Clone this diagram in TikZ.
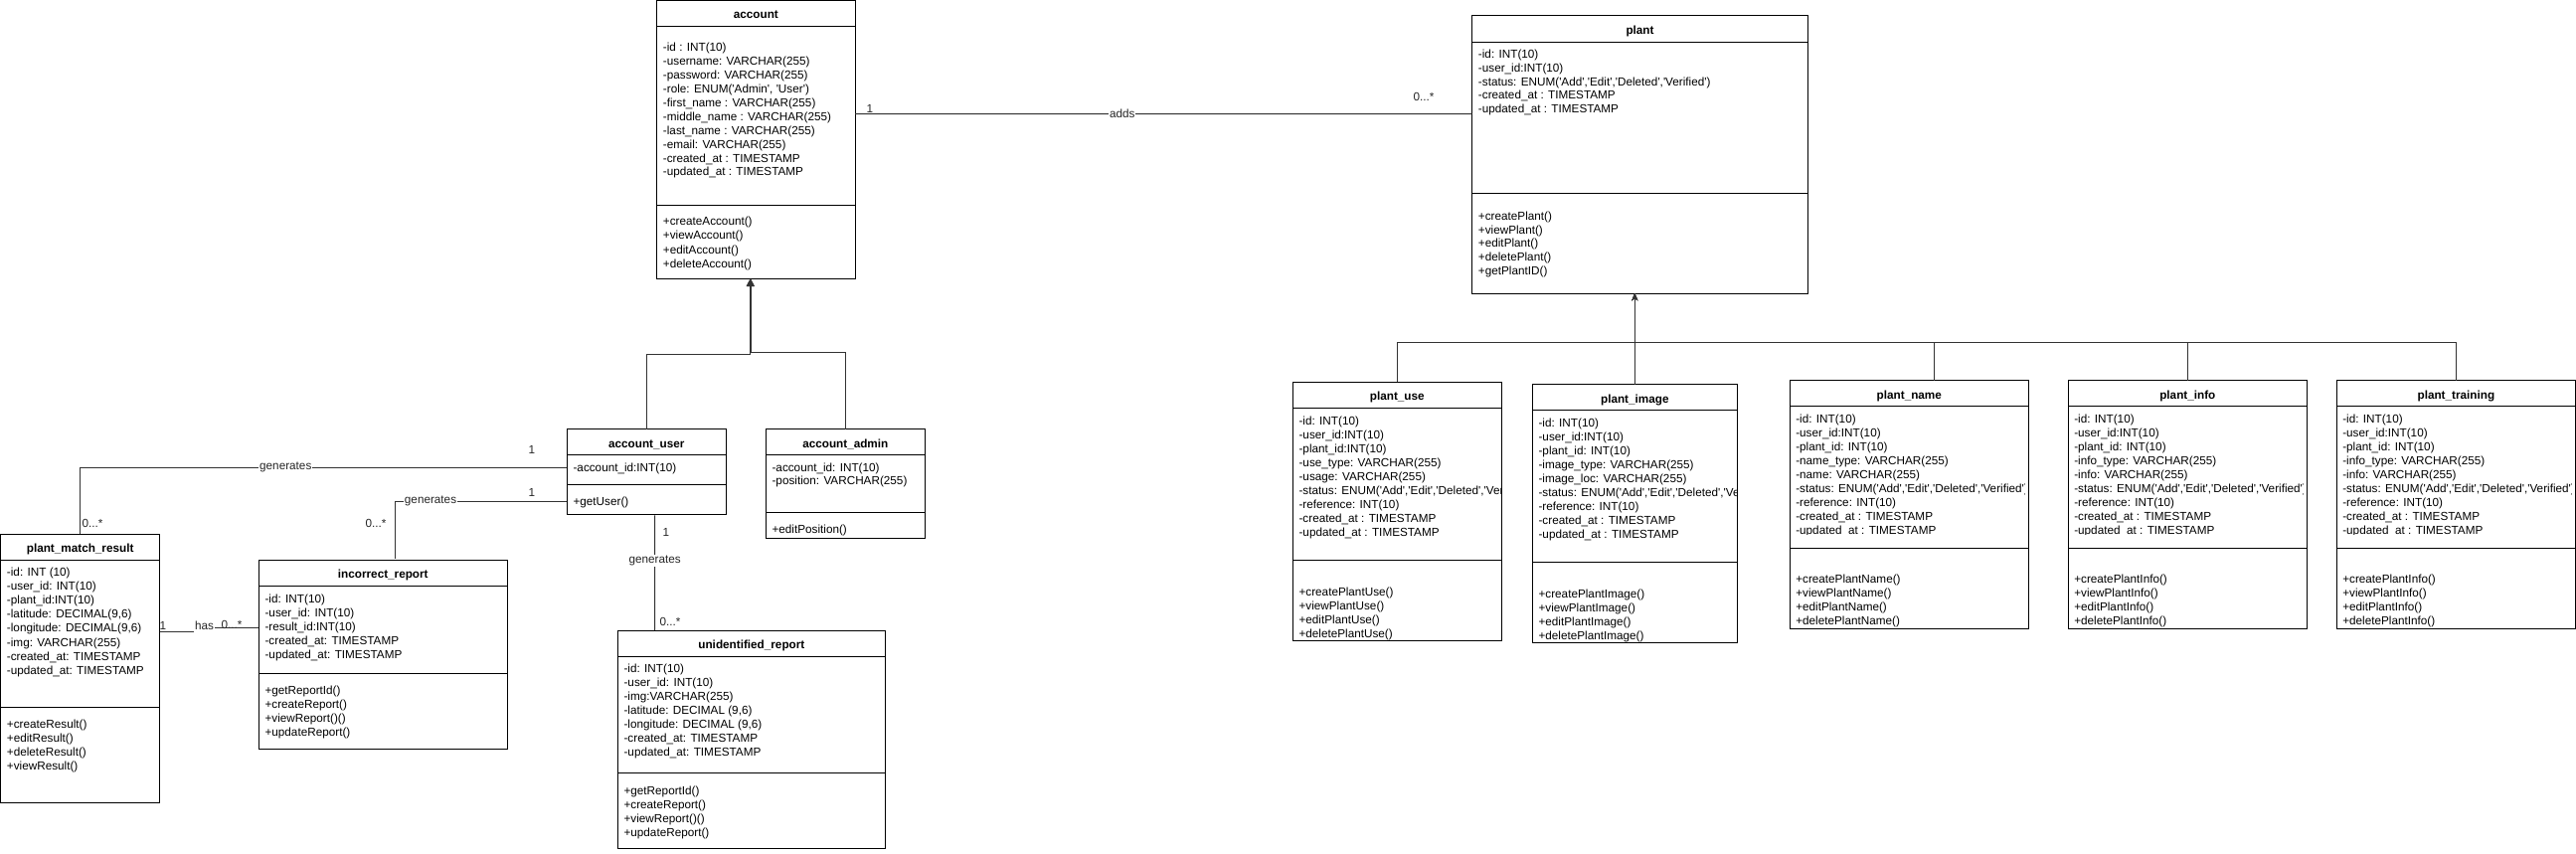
\documentclass[tikz,border=0pt]{standalone}
\usepackage{fontspec}
\newfontfamily\dfont{Liberation Sans}
\usetikzlibrary{fit,calc,arrows.meta}
\tikzset{
  box/.style={draw=black, line width=0.75pt, inner sep=0pt, outer sep=0pt},
  sepl/.style={draw=black, line width=0.75pt},
  txt/.style={anchor=base west, inner sep=0pt, font=\dfont\fontsize{8.8}{10}\selectfont},
  ttl/.style={anchor=base, inner sep=0pt, font=\dfont\bfseries\fontsize{8.8}{10}\selectfont},
  conn/.style={draw=black!80, line width=0.75pt},
  lbl/.style={inner sep=0.75pt, text=black!85, font=\dfont\fontsize{8.8}{10}\selectfont},
  onl/.style={lbl, fill=white},
  gen/.style={-{Triangle[width=5.5pt,length=5.5pt]}},
  gen2/.style={-{Stealth[width=4.5pt,length=5.5pt,inset=1.5pt]}},
}
% name, x1, y1, x2, y2, title separator, method separator, title
\newcommand\umlbox[8]{%
  \node[box, fit={(#2,#3) (#4,#5)}] (#1) {};
  \draw[sepl] (#2,#6) -- (#4,#6);
  \draw[sepl] (#2,#7) -- (#4,#7);
  \node[ttl] (#1-title) at ({(#2+#4)/2},{(#3+#6)/2+5.5}) {#8};
}
% name, x, first baseline, step, list
\newcommand\rows[5]{%
  \foreach \t [count=\i from 0] in {#5} {\node[txt] (#1-\i) at (#2,{#3+\i*#4}) {\t};}%
}
\begin{document}
\begin{tikzpicture}[x=0.75pt,y=-0.75pt]
\useasboundingbox (0,0) rectangle (2591,858);

% ---------------- account
\umlbox{account}{660.7}{0.7}{860}{280.7}{26}{206.7}{account}
\rows{account-a}{666.7}{51.8}{13.9}{-id : INT(10), -username: VARCHAR(255), -password: VARCHAR(255), {-role: ENUM('Admin', 'User')}, -first\_name : VARCHAR(255), -middle\_name : VARCHAR(255), -last\_name : VARCHAR(255), -email: VARCHAR(255), -created\_at : TIMESTAMP, -updated\_at : TIMESTAMP}
\rows{account-m}{666.7}{226.8}{14.1}{+createAccount(), +viewAccount(), +editAccount(), +deleteAccount()}

% ---------------- plant
\umlbox{plant}{1480.7}{15.3}{1818.3}{295}{42.5}{194.3}{plant}
\rows{plant-a}{1486.7}{58.5}{13.8}{-id: INT(10), -user\_id:INT(10), {-status: ENUM('Add','Edit','Deleted','Verified')}, -created\_at : TIMESTAMP, -updated\_at : TIMESTAMP}
\rows{plant-m}{1486.7}{221.3}{13.8}{+createPlant(), +viewPlant(), +editPlant(), +deletePlant(), +getPlantID()}

% ---------------- account_user / account_admin
\umlbox{au}{570.3}{431.7}{730.3}{517.3}{457.7}{487.3}{account\_user}
\rows{au-a}{576.3}{474.5}{14}{-account\_id:INT(10)}
\rows{au-m}{576.3}{508.5}{14}{+getUser()}
\umlbox{aa}{770.3}{431.7}{930.3}{541.7}{457.7}{515.7}{account\_admin}
\rows{aa-a}{776.3}{474.5}{13.4}{-account\_id: INT(10), -position: VARCHAR(255)}
\rows{aa-m}{776.3}{536.8}{14}{+editPosition()}

% ---------------- plant_match_result
\umlbox{pmr}{0.6}{537.3}{160.7}{807.3}{563.3}{711.3}{plant\_match\_result}
\rows{pmr-a}{6.7}{579.5}{14.1}{-id: INT (10), -user\_id: INT(10), -plant\_id:INT(10), {-latitude: DECIMAL(9,6)}, {-longitude: DECIMAL(9,6)}, -img: VARCHAR(255), -created\_at: TIMESTAMP, -updated\_at: TIMESTAMP}
\rows{pmr-m}{6.7}{732.5}{13.9}{+createResult(), +editResult(), +deleteResult(), +viewResult()}

% ---------------- incorrect_report
\umlbox{ir}{260.3}{563.3}{510.3}{753.3}{589.3}{677.3}{incorrect\_report}
\rows{ir-a}{266.3}{606.2}{14.1}{-id: INT(10), -user\_id: INT(10), -result\_id:INT(10), -created\_at: TIMESTAMP, -updated\_at: TIMESTAMP}
\rows{ir-m}{266.3}{698.5}{13.9}{+getReportId(), +createReport(), +viewReport()(), +updateReport()}

% ---------------- unidentified_report
\umlbox{ur}{621.7}{634}{890}{853.3}{660}{777.7}{unidentified\_report}
\rows{ur-a}{627.3}{676.8}{13.9}{-id: INT(10), -user\_id: INT(10), -img:VARCHAR(255), {-latitude: DECIMAL (9,6)}, {-longitude: DECIMAL (9,6)}, -created\_at: TIMESTAMP, -updated\_at: TIMESTAMP}
\rows{ur-m}{627.3}{799.5}{14.1}{+getReportId(), +createReport(), +viewReport()(), +updateReport()}

% ---------------- plant_use
\umlbox{pu}{1300.3}{384.3}{1510.3}{644}{410.3}{563.3}{plant\_use}
\begin{scope}
\clip (1301,411) rectangle (1509.5,562);
\rows{pu-a}{1306.3}{427.5}{13.96}{-id: INT(10), -user\_id:INT(10), -plant\_id:INT(10), -use\_type: VARCHAR(255), -usage: VARCHAR(255), {-status: ENUM('Add','Edit','Deleted','Verified')}, -reference: INT(10), -created\_at : TIMESTAMP, -updated\_at : TIMESTAMP}
\end{scope}
\rows{pu-m}{1306.3}{599.2}{14}{+createPlantUse(), +viewPlantUse(), +editPlantUse(), +deletePlantUse()}

% ---------------- plant_image
\umlbox{pi}{1541.3}{386.7}{1747.3}{646.3}{412.3}{565.7}{plant\_image}
\begin{scope}
\clip (1542,413) rectangle (1746.5,564);
\rows{pi-a}{1547.3}{429.5}{14}{-id: INT(10), -user\_id:INT(10), -plant\_id: INT(10), -image\_type: VARCHAR(255), -image\_loc: VARCHAR(255), {-status: ENUM('Add','Edit','Deleted','Verified')}, -reference: INT(10), -created\_at : TIMESTAMP, -updated\_at : TIMESTAMP}
\end{scope}
\rows{pi-m}{1547.3}{601.2}{14}{+createPlantImage(), +viewPlantImage(), +editPlantImage(), +deletePlantImage()}

% ---------------- plant_name
\umlbox{pn}{1800.3}{382.7}{2040.3}{632.3}{408.3}{551.3}{plant\_name}
\begin{scope}
\clip (1801,409) rectangle (2036.7,537.3);
\rows{pn-a}{1806}{425.8}{14}{-id: INT(10), -user\_id:INT(10), -plant\_id: INT(10), -name\_type: VARCHAR(255), -name: VARCHAR(255), {-status: ENUM('Add','Edit','Deleted','Verified')}, -reference: INT(10), -created\_at : TIMESTAMP, -updated\_at : TIMESTAMP}
\end{scope}
\rows{pn-m}{1806}{586.8}{13.9}{+createPlantName(), +viewPlantName(), +editPlantName(), +deletePlantName()}

% ---------------- plant_info
\umlbox{pinfo}{2080.3}{382.7}{2320.3}{632.3}{408.3}{551.3}{plant\_info}
\begin{scope}
\clip (2081,409) rectangle (2316.7,537.3);
\rows{pinfo-a}{2086}{425.8}{14}{-id: INT(10), -user\_id:INT(10), -plant\_id: INT(10), -info\_type: VARCHAR(255), -info: VARCHAR(255), {-status: ENUM('Add','Edit','Deleted','Verified')}, -reference: INT(10), -created\_at : TIMESTAMP, -updated\_at : TIMESTAMP}
\end{scope}
\rows{pinfo-m}{2086}{586.8}{13.9}{+createPlantInfo(), +viewPlantInfo(), +editPlantInfo(), +deletePlantInfo()}

% ---------------- plant_training
\umlbox{pt}{2350.3}{382.7}{2590.4}{632.3}{408.3}{551.3}{plant\_training}
\begin{scope}
\clip (2351,409) rectangle (2586.7,537.3);
\rows{pt-a}{2356}{425.8}{14}{-id: INT(10), -user\_id:INT(10), -plant\_id: INT(10), -info\_type: VARCHAR(255), -info: VARCHAR(255), {-status: ENUM('Add','Edit','Deleted','Verified')}, -reference: INT(10), -created\_at : TIMESTAMP, -updated\_at : TIMESTAMP}
\end{scope}
\rows{pt-m}{2356}{586.8}{13.9}{+createPlantInfo(), +viewPlantInfo(), +editPlantInfo(), +deletePlantInfo()}

% ================= connectors
% adds
\draw[conn] ($(account.north east)+(0,113.8)$) -- node[onl,pos=0.433] (adds) {adds} ($(plant.north west)+(0,99.2)$);
\node[lbl] (adds-one) at (875,109.5) {1};
\node[lbl] (adds-many) at (1432,97) {0...*};

% plant_match_result generates -> account_user
\draw[conn] (pmr.north) |- node[onl,pos=0.711] (gen-a) {generates} ($(au.north west)+(0,38.6)$);
\node[lbl] (gen-a-many) at (93,526.7) {0...*};
\node[lbl] (gen-a-one) at (535,452.7) {1};

% incorrect_report generates -> account_user
\draw[conn] ($(ir.north west)+(136.7,-1.6)$) |- node[onl,pos=0.604] (gen-b) {generates} ($(au.north west)+(0,72.6)$);
\node[lbl] (gen-b-many) at (378,526.7) {0...*};
\node[lbl] (gen-b-one) at (535,495.7) {1};

% account_user generates -> unidentified_report
\draw[conn] ($(au.south west)+(88.4,1)$) -- node[onl,pos=0.394] (gen-c) {generates} ($(ur.north west)+(37,0)$);
\node[lbl] (gen-c-one) at (670,535) {1};
\node[lbl] (gen-c-many) at (674,625) {0...*};

% plant_match_result has incorrect_report
\draw[conn] ($(pmr.north east)+(0,98)$) -- ++(44.8,0) |- ($(ir.north west)+(0,68)$);
\node[onl, minimum height=12pt, inner ysep=0pt] (has) at (205.5,628.9) {has};
\node[lbl] (has-one) at (164,629.3) {1};
\node[lbl] (has-many) at (233,628.7) {0...*};

% generalisation account
\draw[conn,gen] (au.north) |- ($(account.south west)+(93.6,75.3)$) -- ($(account.south west)+(93.6,0)$);
\draw[conn,gen] (aa.north) |- ($(account.south west)+(94.6,73.6)$) -- ($(account.south west)+(94.6,0)$);

% generalisation plant
\coordinate (pj) at ($(pi.north)+(0,-42.4)$);
\draw[conn,gen2] (pi.north) -- (pi.north |- plant.south);
\draw[conn,gen2] (pu.north) |- (pj) -- (pi.north |- plant.south);
\draw[conn,gen2] ($(pn.north west)+(144.7,0)$) |- (pj) -- (pi.north |- plant.south);
\draw[conn,gen2] (pinfo.north) |- (pj) -- (pi.north |- plant.south);
\draw[conn,gen2] (pt.north) |- (pj) -- (pi.north |- plant.south);
\end{tikzpicture}
\end{document}
